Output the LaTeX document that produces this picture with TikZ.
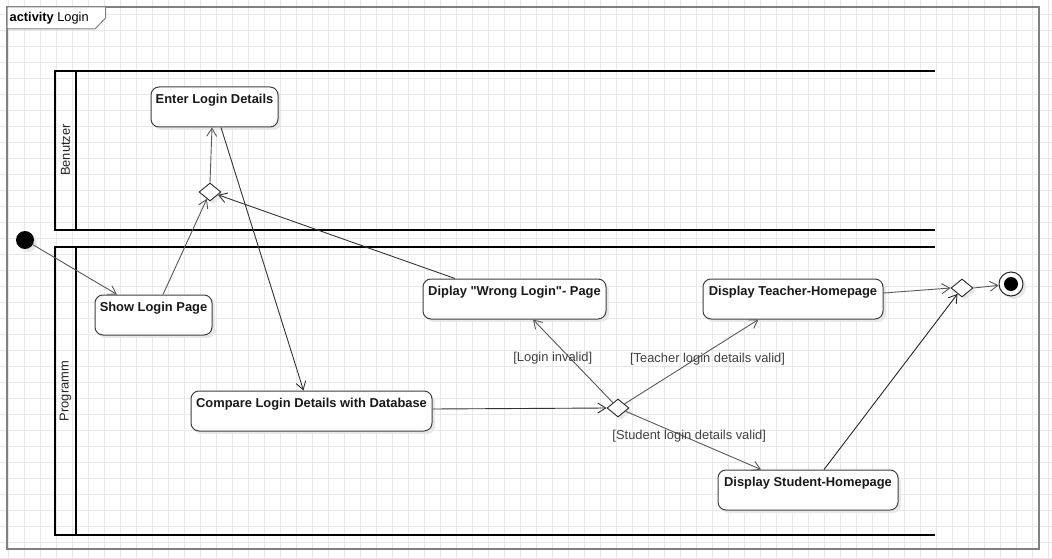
\documentclass[tikz,border=0pt]{standalone}
\usepackage{fontspec}
\setmainfont{Liberation Sans}
\usetikzlibrary{arrows.meta,shapes.geometric,shadows}
\begin{document}
\begin{tikzpicture}[x=1pt,y=-1pt,
  gridline/.style={draw=black!9, line width=0.8pt},
  frameline/.style={draw=black!50, line width=1.6pt},
  laneline/.style={draw=black, line width=2pt},
  shad/.style={drop shadow={shadow xshift=3pt, shadow yshift=-3pt, fill=black!9, opacity=1}},
  act/.style={draw=black!75, line width=1pt, rounded corners=8pt, fill=white, inner sep=0pt, shad},
  acttext/.style={anchor=base, yshift=-17pt, font=\fontsize{12.9}{15}\selectfont\bfseries, text=black!90},
  decision/.style={diamond, draw=black!85, line width=0.9pt, fill=white, minimum width=22pt, minimum height=18pt, inner sep=0pt, shad},
  flow/.style={draw=black!65, line width=0.9pt, -{Straight Barb[length=8pt,width=10pt,line width=0.9pt]}},
  guard/.style={font=\fontsize{12.9}{15}\selectfont, text=black!75, inner sep=0pt},
  lanetext/.style={rotate=90, font=\fontsize{12.9}{15}\selectfont, text=black!85}
]
\useasboundingbox (0,0) rectangle (1052,559);
\fill[white] (0,0) rectangle (1052,559);
% background grid
\foreach \gx in {8,24,...,1048} \draw[gridline] (\gx,0) -- (\gx,559);
\foreach \gy in {14,30,...,558} \draw[gridline] (0,\gy) -- (1052,\gy);

% frame
\draw[frameline] (7,7) rectangle (1039,549);
\draw[draw=black!50, line width=1pt, fill=white] (7,7) -- (105.5,7) -- (105.5,18) -- (95,29) -- (7,29) -- cycle;
\node[anchor=west, font=\fontsize{12.8}{15}\selectfont, inner sep=0pt] (title) at (9.5,18) {\textbf{activity} Login};

% swimlanes
\draw[laneline] (935,71) -- (55,71) -- (55,230) -- (935,230);
\draw[laneline] (76,71) -- (76,230);
\draw[laneline] (935,247) -- (55,247) -- (55,535) -- (935,535);
\draw[laneline] (76,247) -- (76,535);
\node[lanetext] (laneA) at (65.5,150) {Benutzer};
\node[lanetext] (laneB) at (65.5,391) {Programm};

% nodes
\node[circle, fill=black, minimum size=18pt, inner sep=0pt, shad] (init) at (25,240) {};
\node[act, minimum width=127pt, minimum height=40pt, label={[acttext]north:Enter Login Details}] (enter) at (214.5,107) {};
\node[act, minimum width=117pt, minimum height=40pt, label={[acttext]north:Show Login Page}] (show) at (153.5,315) {};
\node[act, minimum width=241pt, minimum height=40pt, label={[acttext]north:Compare Login Details with Database}] (compare) at (311.5,411) {};
\node[act, minimum width=183pt, minimum height=40pt, label={[acttext]north:Diplay \textquotedbl Wrong Login\textquotedbl- Page}] (wrong) at (514.5,299) {};
\node[act, minimum width=180pt, minimum height=40pt, label={[acttext]north:Display Teacher-Homepage}] (teacher) at (793,299) {};
\node[act, minimum width=180pt, minimum height=40pt, label={[acttext]north:Display Student-Homepage}] (student) at (808,490) {};
\node[decision] (d1) at (210,192) {};
\node[decision] (d2) at (618,408) {};
\node[decision] (d3) at (962,288) {};
\node[circle, draw=black!85, line width=1pt, fill=white, minimum size=24pt, inner sep=0pt, shad] (final) at (1011,284) {};
\fill[black] (final.center) circle (7);

% connectors
\draw[flow] (init) -- ([xshift=-36.5pt]show.north);
\draw[flow] ([xshift=9.5pt]show.north) -- (d1);
\draw[flow] (d1.north) -- ([xshift=-2.5pt]enter.south);
\draw[flow, draw=black!80] ([xshift=6.5pt]enter.south) -- ([xshift=-8pt]compare.north);
\draw[flow, draw=black!80] ([xshift=-59.5pt]wrong.north) -- (d1);
\draw[flow, draw=black!80] ([yshift=2pt]compare.east) -- (d2.west);
\draw[flow] (d2) -- node[guard, pos=0.54, xshift=-17pt] (g1) {[Login invalid]} ([xshift=18.5pt]wrong.south);
\draw[flow] (d2) -- node[guard, pos=0.53, xshift=12pt] (g2) {[Teacher login details valid]} ([xshift=-34.5pt]teacher.south);
\draw[flow] (d2) -- node[guard, pos=0.47, yshift=2pt] (g3) {[Student login details valid]} ([xshift=-47pt]student.north);
\draw[flow] ([yshift=6pt]teacher.east) -- (d3.west);
\draw[flow, draw=black!85] ([xshift=16pt]student.north) -- (d3);
\draw[flow] (d3.east) -- (final);
\end{tikzpicture}
\end{document}
